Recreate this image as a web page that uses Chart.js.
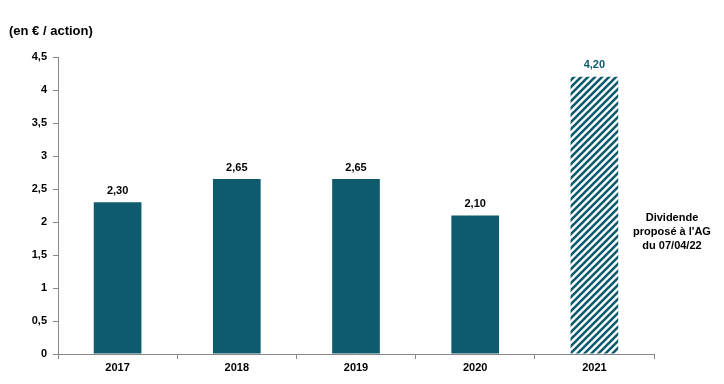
<!DOCTYPE html>
<html lang="fr">
<head>
  <meta charset="UTF-8">
  <title>Dividende par action</title>
  <script src="https://cdn.jsdelivr.net/npm/chart.js"></script>
  <style>
    body { margin: 0; background: #fff; }
    canvas { display: block; }
  </style>
</head>
<body>
  <canvas id="grafica" width="724" height="384"></canvas>
  <script>
    const annees = ["2017", "2018", "2019", "2020", "2021"];
    const dividendes = [2.30, 2.65, 2.65, 2.10, 4.20];
    const titreAxe = "(en € / action)";
    const note = ["Dividende", "proposé à l'AG", "du 07/04/22"];

    const bleu = "#0e5a6f";
    const police = "'Liberation Sans', Arial, sans-serif";

    // motif hachuré pour le dividende proposé
    function hachures() {
      const s = 7;
      const c = document.createElement("canvas");
      c.width = s; c.height = s;
      const g = c.getContext("2d");
      g.fillStyle = "#fff";
      g.fillRect(0, 0, s, s);
      g.strokeStyle = bleu;
      g.lineWidth = 2.6;
      g.beginPath();
      g.moveTo(0, s); g.lineTo(s, 0);
      g.moveTo(-s / 2, s / 2); g.lineTo(s / 2, -s / 2);
      g.moveTo(s / 2, s * 1.5); g.lineTo(s * 1.5, s / 2);
      g.stroke();
      return g.createPattern(c, "repeat");
    }

    const fmt = v => v.toFixed(2).replace(".", ",");

    const etiquettes = {
      id: "etiquettes",
      afterDatasetsDraw(chart) {
        const ctx = chart.ctx;
        const meta = chart.getDatasetMeta(0);
        ctx.save();
        ctx.font = "bold 11px " + police;
        ctx.textAlign = "center";
        ctx.textBaseline = "bottom";
        meta.data.forEach((bar, i) => {
          ctx.fillStyle = i === dividendes.length - 1 ? bleu : "#000";
          ctx.fillText(fmt(dividendes[i]), bar.x, bar.y - 6);
        });
        // titre de l'axe
        ctx.font = "bold 13px " + police;
        ctx.textAlign = "left";
        ctx.textBaseline = "middle";
        ctx.fillStyle = "#000";
        ctx.fillText(titreAxe, 9, 31);
        // note
        ctx.font = "bold 11px " + police;
        ctx.textAlign = "center";
        note.forEach((l, i) => ctx.fillText(l, 672, 218 + i * 14));
        ctx.restore();
      }
    };

    const motif = hachures();

    new Chart(document.getElementById("grafica"), {
      type: "bar",
      data: {
        labels: annees,
        datasets: [{
          data: dividendes,
          backgroundColor: dividendes.map((v, i) => i === dividendes.length - 1 ? motif : bleu),
          barPercentage: 0.4,
          categoryPercentage: 1
        }]
      },
      options: {
        responsive: false,
        animation: false,
        layout: { padding: { left: 0, right: 70, top: 57, bottom: 0 } },
        plugins: { legend: { display: false }, tooltip: { enabled: false } },
        scales: {
          x: {
            afterFit: s => { s.height = 30; },
            grid: { drawOnChartArea: false, color: "#888", tickLength: 5 },
            border: { color: "#888" },
            ticks: { color: "#000", font: { family: police, size: 11, weight: "bold" }, padding: 2 }
          },
          y: {
            min: 0, max: 4.5,
            afterFit: s => { s.width = 58; },
            grid: { drawOnChartArea: false, color: "#888", tickLength: 5 },
            border: { color: "#888" },
            ticks: {
              stepSize: 0.5,
              color: "#000",
              padding: 6,
              font: { family: police, size: 11, weight: "bold" },
              callback: v => String(v).replace(".", ",")
            }
          }
        }
      },
      plugins: [etiquettes]
    });
  </script>
</body>
</html>
